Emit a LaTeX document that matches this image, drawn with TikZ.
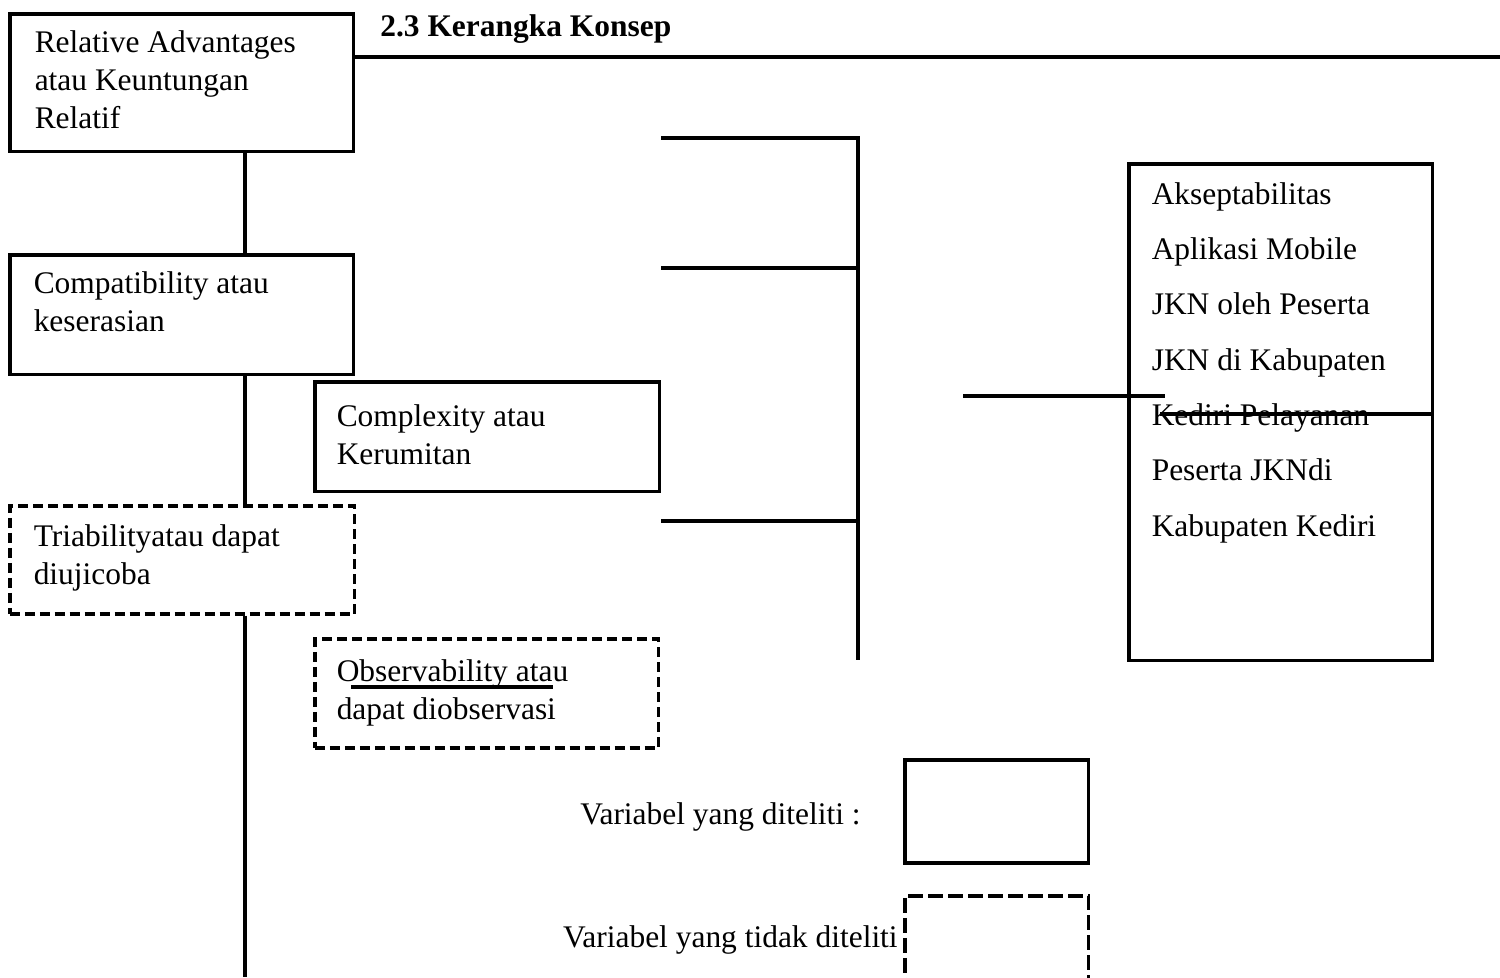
\documentclass[tikz,border=0pt]{standalone}
\usepackage{fontspec}
\setmainfont{Liberation Serif}
\usepackage{tikz}

\tikzstyle{kotak} = [rectangle, draw, line width=2pt, anchor=north west,
    inner xsep=0.48cm, inner ysep=0.24cm]
\tikzstyle{kotakputus} = [kotak, dash pattern=on 0.2cm off 0.1cm]
\tikzstyle{garis} = [draw, line width=2pt]
\tikzstyle{ket} = [inner sep=0pt, anchor=east]

% isi kotak: lebar, tinggi, teks
\newcommand{\isi}[3]{\parbox[c][#2][t]{#1}{\raggedright\strut #3}}

\begin{document}
\begin{tikzpicture}[x=0.02cm, y=-0.02cm, font=\fontsize{17.9}{21.6}\selectfont]
\useasboundingbox (0,0) rectangle (1500,977);

\node [anchor=west, inner sep=0pt, font=\bfseries\fontsize{17.9}{21.6}\selectfont] (judul) at (380,29) {2.3 Kerangka Konsep};

\node [kotak, inner xsep=0.5cm] (relatif) at (8,12) {\isi{5.88cm}{2.28cm}{Relative Advantages\\ atau Keuntungan\\ Relatif}};
\node [kotak] (kompat) at (8,253) {\isi{5.92cm}{1.92cm}{Compatibility atau\\ keserasian}};
\node [kotakputus, inner ysep=0.29cm] (triabil) at (8,504) {\isi{5.94cm}{1.58cm}{Triabilityatau dapat\\ diujicoba}};
\node [kotak, inner xsep=0.44cm, inner ysep=0.37cm] (kompleks) at (313,380) {\isi{6.02cm}{1.46cm}{Complexity atau\\ Kerumitan}};
\node [kotakputus, inner xsep=0.44cm, inner ysep=0.33cm] (observ) at (313,637) {\isi{6.0cm}{1.52cm}{Observability atau\\ dapat diobservasi}};
\node [kotak, inner xsep=0.46cm, inner ysep=0.03cm] (akseptab) at (1127,162) {\fontsize{17.9}{31.5}\selectfont\isi{5.16cm}{9.88cm}{Akseptabilitas\\ Aplikasi Mobile\\ JKN oleh Peserta\\ JKN di Kabupaten\\ Kediri Pelayanan\\ Peserta JKNdi\\ Kabupaten Kediri}};

%keterangan
\node [kotak, minimum width=3.68cm, minimum height=2.06cm, inner sep=0pt] (legteliti) at (903,758) {};
\node [kotakputus, minimum width=3.68cm, minimum height=2.6cm, inner sep=0pt, dash pattern=on 0.3cm off 0.1cm] (legtidak) at (903,894) {};
\node [ket] (ketteliti) at (861,817) {Variabel yang diteliti :};
\node [ket] (kettidak) at (898,940) {Variabel yang tidak diteliti};

\coordinate (ujungjudul) at (1500,57);
\coordinate (batang) at (245,977);
\coordinate (sikuatas) at (858,138);
\coordinate (cabang1) at (858,268);
\coordinate (cabang2) at (858,521);
\coordinate (sikubawah) at (858,660);
\coordinate (tengahkiri) at (963,396);
\coordinate (tengahkanan) at (1165,396);
\coordinate (coret) at (1160,414);
\coordinate (garisbawah1) at (351,687);
\coordinate (garisbawah2) at (553,687);

  \path [garis] (relatif.east |- ujungjudul) -- (ujungjudul);
  \path [garis] (relatif.south -| batang) -- (kompat.north -| batang);
  \path [garis] (kompat.south -| batang) -- (triabil.north -| batang);
  \path [garis] (triabil.south -| batang) -- (batang);
  \path [garis] (kompleks.east |- sikuatas) -- (sikuatas) -- (sikubawah);
  \path [garis] (kompleks.east |- cabang1) -- (cabang1);
  \path [garis] (kompleks.east |- cabang2) -- (cabang2);
  \path [garis] (tengahkiri) -- (tengahkanan);
  \path [garis] (coret) -- (akseptab.east |- coret);
  \path [garis] (garisbawah1) -- (garisbawah2);

\end{tikzpicture}
\end{document}
